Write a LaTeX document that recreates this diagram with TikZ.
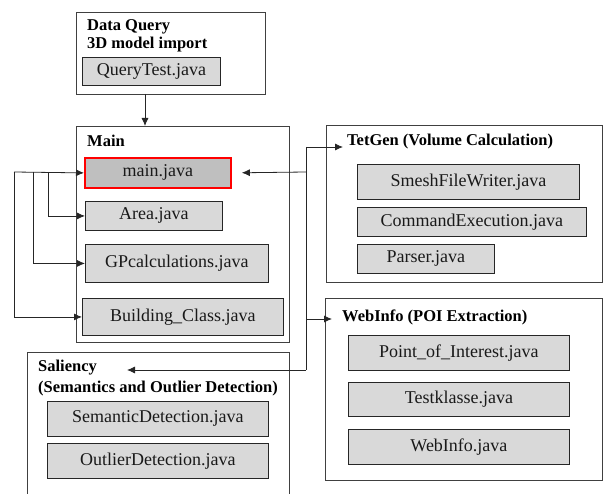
\documentclass[tikz,border=0pt]{standalone}
\usepackage{fontspec}
\setmainfont{Liberation Serif}
\usetikzlibrary{arrows.meta, calc}

\definecolor{boxgray}{HTML}{D9D9D9}
\definecolor{maingray}{HTML}{BFBFBF}
\definecolor{framegray}{HTML}{404040}

\begin{document}
\begin{tikzpicture}[x=1pt, y=-1pt, >={Latex[length=8pt,width=7pt]},
	group/.style={draw=framegray, line width=0.9pt, anchor=north west, inner sep=0pt},
	file/.style={draw=black!85, fill=boxgray, line width=0.9pt, anchor=north west, inner sep=0pt,
		text=black!90, font=\fontsize{18}{20}\selectfont},
	title/.style={anchor=west, inner sep=0pt, align=left, text=black,
		font=\fontsize{16.5}{18}\selectfont\bfseries},
	conn/.style={line width=0.8pt, black!85}]

\useasboundingbox (0,0) rectangle (603,494);

%========================
% Data Query
%========================
\node[group, minimum width=189pt, minimum height=82pt] (dq) at (76,12) {};
\node[title] (dqt) at (87,36) {Data Query\\3D model import};
\node[file, minimum width=138pt, minimum height=28pt] (qt) at (82,57) {QueryTest.java};

%========================
% Main
%========================
\node[group, minimum width=213pt, minimum height=216pt] (mn) at (76,126) {};
\node[title] (mnt) at (87,141) {Main};
\node[file, fill=maingray, draw=red, line width=1.8pt, minimum width=146pt, minimum height=30pt] (main) at (84,157) {main.java};
\node[file, minimum width=137pt, minimum height=29pt] (area) at (85,201) {Area.java};
\node[file, minimum width=183pt, minimum height=38pt] (gp) at (85,244) {GPcalculations.java};
\node[file, minimum width=201pt, minimum height=37pt] (bc) at (82,298) {Building\_Class.java};

%========================
% TetGen
%========================
\node[group, minimum width=276pt, minimum height=157pt] (tg) at (326,125) {};
\node[title] (tgt) at (347,142) {TetGen (Volume Calculation)};
\node[file, minimum width=222pt, minimum height=35pt] (smesh) at (357,164) {SmeshFileWriter.java};
\node[file, minimum width=229pt, minimum height=29pt] (cmd) at (357,207) {CommandExecution.java};
\node[file, minimum width=137pt, minimum height=29pt] (parser) at (357,244) {Parser.java};

%========================
% WebInfo
%========================
\node[group, minimum width=277pt, minimum height=182pt] (wi) at (325,298) {};
\node[title] (wit) at (342,317) {WebInfo (POI Extraction)};
\node[file, minimum width=221pt, minimum height=35pt] (poi) at (348,335) {Point\_of\_Interest.java};
\node[file, minimum width=221pt, minimum height=34pt] (test) at (348,382) {Testklasse.java};
\node[file, minimum width=221pt, minimum height=35pt] (web) at (348,429) {WebInfo.java};

%========================
% Saliency (frame runs off the bottom)
%========================
\draw[framegray, line width=0.9pt] (27,494) |- (289,352) -- (289,494);
\node[title] (sat) at (38,378.5) {Saliency\\[3pt](Semantics and Outlier Detection)};
\node[file, minimum width=221pt, minimum height=35pt] (sem) at (47,401) {SemanticDetection.java};
\node[file, minimum width=221pt, minimum height=35pt] (out) at (47,443) {OutlierDetection.java};

%========================
% connectors
%========================
\coordinate (dqout) at (145,94);
\draw[conn,->] (dqout) -- (dqout |- mn.north);

% left trunk
\coordinate (l0) at (14,172);
\coordinate (l1) at (33,172);
\coordinate (l2) at (48,172);
\draw[conn,->] (l0) -- (main.west);
\draw[conn,->] (l2) |- (area.west);
\draw[conn,->] (l1) |- (gp.west);
\draw[conn,->] (l0) |- (bc.west);

% right trunk
\coordinate (rt) at (306,147);
\coordinate (rm) at (306,172);
\coordinate (rw) at (306,319);
\coordinate (rb) at (306,370);
\coordinate (salin) at (127,370);
\draw[conn] (rt) -- (rb);
\draw[conn,->,shorten >=10pt] (rm) -- (main.east);
\draw[conn,->,shorten >=4pt] (rt) -- (rt -| tgt.west);
\draw[conn,->,shorten >=10pt] (rw) -- (rw -| wit.west);
\draw[conn,->] (rb) -- (salin);

\end{tikzpicture}
\end{document}
